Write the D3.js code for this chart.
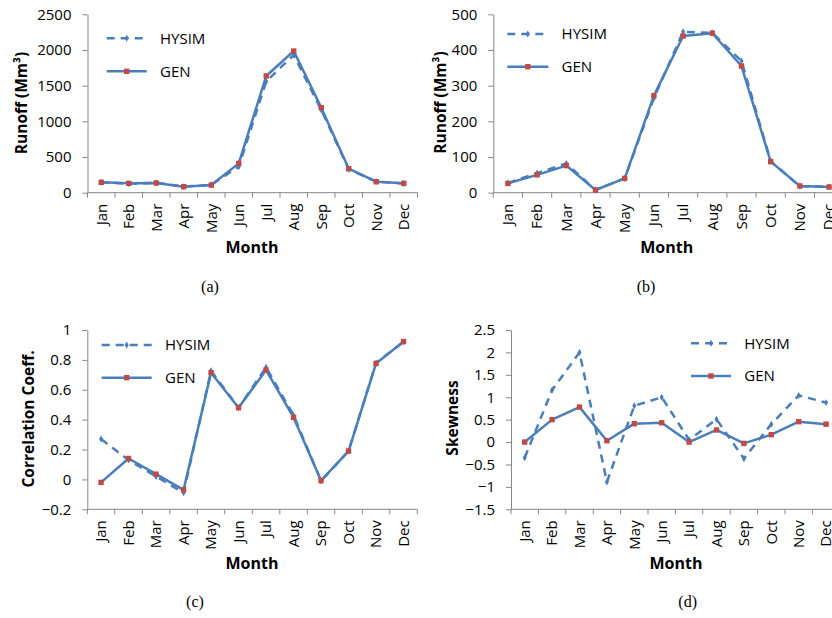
<!DOCTYPE html>
<html>
<head>
<meta http-equiv="content-type" content="text/html; charset=UTF8">
<script src="https://cdn.jsdelivr.net/npm/d3@7/dist/d3.min.js"></script>
<style>
body { margin: 0; background: #fff; }
svg { display: block; }
text { font-family: "Open Sans", "Noto Sans", sans-serif; fill: #000; }
.cap { font-family: "Liberation Serif", "DejaVu Serif", serif; font-size: 16px; }
</style>
</head>
<body>
<svg class="chart" width="832" height="618"></svg>
<script>
var months = ["Jan","Feb","Mar","Apr","May","Jun","Jul","Aug","Sep","Oct","Nov","Dec"];

// (a) runoff, station 1
var hysimA = [145, 125, 140, 85, 110, 365, 1560, 1930, 1160, 330, 155, 130];
var genA   = [145, 131, 136, 84, 107, 411, 1636, 1985, 1192, 336, 154, 131];
var ticksA = [0, 500, 1000, 1500, 2000, 2500];

// (b) runoff, station 2
var hysimB = [27, 55, 82, 8, 40, 265, 451, 448, 369, 88, 18, 17];
var genB   = [26, 50, 76, 7.5, 40, 272, 439, 447, 355, 87, 19, 16];
var ticksB = [0, 100, 200, 300, 400, 500];

// (c) lag-1 correlation
var hysimC = [0.27, 0.13, 0.02, -0.09, 0.727, 0.48, 0.75, 0.43, -0.01, 0.19, 0.78, 0.92];
var genC   = [-0.02, 0.14, 0.035, -0.07, 0.714, 0.48, 0.732, 0.415, -0.008, 0.19, 0.776, 0.923];
var ticksC = [-0.2, 0, 0.2, 0.4, 0.6, 0.8, 1];

// (d) skewness
var hysimD = [-0.35, 1.16, 2.0, -0.89, 0.81, 1.0, 0.05, 0.51, -0.37, 0.4, 1.04, 0.88];
var genD   = [0, 0.5, 0.78, 0.03, 0.41, 0.43, 0, 0.27, -0.03, 0.165, 0.455, 0.40];
var ticksD = [-1.5, -1, -0.5, 0, 0.5, 1, 1.5, 2, 2.5];

var blue = "#4a7ebb", red = "#be4b48", axisCol = "#868686";

var svg = d3.select(".chart");

var panels = [
	{hysim: hysimA, gen: genA, ticks: ticksA, ylabel: "Runoff (Mm³)", cap: "(a)",
	 x0: 87.5, step: 27.5, top: 14.3, bot: 192.7, ylx: 21.7, yly: 103,
	 mx: 252, my: 253, cx: 210, cy: 292, lx: 106.7, lw: 40, ly: 38.3, lgap: 33},
	{hysim: hysimB, gen: genB, ticks: ticksB, ylabel: "Runoff (Mm³)", cap: "(b)",
	 x0: 493.3, step: 29.2, top: 14.3, bot: 192.7, ylx: 441, yly: 102.5,
	 mx: 666.7, my: 253, cx: 646, cy: 292, lx: 507.3, lw: 41, ly: 34, lgap: 32.7},
	{hysim: hysimC, gen: genC, ticks: ticksC, ylabel: "Correlation Coeff.", cap: "(c)",
	 x0: 87.3, step: 27.5, top: 330, bot: 509.3, ylx: 29, yly: 419,
	 mx: 252, my: 569, cx: 195, cy: 607, lx: 101.7, lw: 50, ly: 345, lgap: 32.7},
	{hysim: hysimD, gen: genD, ticks: ticksD, ylabel: "Skewness", cap: "(d)",
	 x0: 511, step: 27.4, top: 330, bot: 509.3, ylx: 452.7, yly: 418,
	 mx: 676, my: 569, cx: 687.7, cy: 607, lx: 691, lw: 40, ly: 343.3, lgap: 32.7}
];

panels.forEach(function(p) {
	var g = svg.append("g");

	var x = d3.scaleBand()
		.domain(months)
		.range([p.x0, p.x0 + p.step * months.length])
		.padding(0);

	var y = d3.scaleLinear()
		.domain(d3.extent(p.ticks))
		.range([p.bot, p.top]);

	// y axis
	var yAxis = g.append("g")
		.attr("transform", "translate(" + p.x0 + ",0)")
		.call(d3.axisLeft(y).tickValues(p.ticks).tickSize(5).tickSizeOuter(0)
			.tickFormat(function(d) { return d3.format("~g")(+d.toFixed(2)); }));
	yAxis.select(".domain").attr("stroke", axisCol);
	yAxis.selectAll(".tick line").attr("stroke", axisCol);
	yAxis.selectAll(".tick text")
		.attr("x", -16)
		.style("font-family", "'Open Sans', sans-serif")
		.style("font-size", "15px")
		.attr("fill", "#000");

	// x axis: line, ticks on category boundaries, rotated labels
	g.append("line")
		.attr("x1", p.x0).attr("x2", p.x0 + p.step * months.length)
		.attr("y1", p.bot).attr("y2", p.bot)
		.attr("stroke", axisCol);
	g.selectAll(".xt")
		.data(months.concat(["end"]))
		.enter().append("line")
		.attr("x1", function(d, i) { return p.x0 + i * x.bandwidth(); })
		.attr("x2", function(d, i) { return p.x0 + i * x.bandwidth(); })
		.attr("y1", p.bot).attr("y2", p.bot + 5)
		.attr("stroke", axisCol);
	g.selectAll(".xl")
		.data(months)
		.enter().append("text")
		.attr("transform", function(d) {
			return "translate(" + (x(d) + x.bandwidth() / 2) + "," + (p.bot + 11) + ") rotate(-90)";
		})
		.attr("text-anchor", "end")
		.attr("dy", "0.35em")
		.style("font-size", "15px")
		.text(function(d) { return d; });

	var line = d3.line()
		.x(function(d, i) { return x(months[i]) + x.bandwidth() / 2; })
		.y(function(d) { return y(d); });

	// GEN
	g.append("path")
		.datum(p.gen)
		.attr("d", line)
		.attr("fill", "none")
		.attr("stroke", blue)
		.attr("stroke-width", 2.5)
		.attr("stroke-linejoin", "round");
	// HYSIM
	g.append("path")
		.datum(p.hysim)
		.attr("d", line)
		.attr("fill", "none")
		.attr("stroke", blue)
		.attr("stroke-width", 2.5)
		.attr("stroke-dasharray", "8,6");
	g.selectAll(".hm")
		.data(p.hysim)
		.enter().append("path")
		.attr("d", d3.symbol(d3.symbolDiamond, 14))
		.attr("transform", function(d, i) {
			return "translate(" + (x(months[i]) + x.bandwidth() / 2) + "," + y(d) + ")";
		})
		.attr("fill", blue);
	g.selectAll(".gm")
		.data(p.gen)
		.enter().append("rect")
		.attr("x", function(d, i) { return x(months[i]) + x.bandwidth() / 2 - 2.7; })
		.attr("y", function(d) { return y(d) - 2.7; })
		.attr("width", 5.4).attr("height", 5.4)
		.attr("fill", red);

	// legend
	var lg = g.append("g");
	lg.append("line")
		.attr("x1", p.lx).attr("x2", p.lx + p.lw)
		.attr("y1", p.ly).attr("y2", p.ly)
		.attr("stroke", blue).attr("stroke-width", 2.5)
		.attr("stroke-dasharray", "8,6");
	lg.append("path")
		.attr("d", d3.symbol(d3.symbolDiamond, 14))
		.attr("transform", "translate(" + (p.lx + p.lw / 2) + "," + p.ly + ")")
		.attr("fill", blue);
	lg.append("text")
		.attr("x", p.lx + p.lw + 13.3).attr("y", p.ly)
		.attr("dy", "0.35em")
		.style("font-size", "15px")
		.text("HYSIM");
	lg.append("line")
		.attr("x1", p.lx).attr("x2", p.lx + p.lw)
		.attr("y1", p.ly + p.lgap).attr("y2", p.ly + p.lgap)
		.attr("stroke", blue).attr("stroke-width", 2.5);
	lg.append("rect")
		.attr("x", p.lx + p.lw / 2 - 2.7).attr("y", p.ly + p.lgap - 2.7)
		.attr("width", 5.4).attr("height", 5.4)
		.attr("fill", red);
	lg.append("text")
		.attr("x", p.lx + p.lw + 13.3).attr("y", p.ly + p.lgap)
		.attr("dy", "0.35em")
		.style("font-size", "15px")
		.text("GEN");

	// titles
	g.append("text")
		.attr("transform", "translate(" + p.ylx + "," + p.yly + ") rotate(-90)")
		.attr("text-anchor", "middle")
		.attr("dy", "0.35em")
		.style("font-size", "15.5px")
		.style("font-weight", "bold")
		.text(p.ylabel);
	g.append("text")
		.attr("x", p.mx).attr("y", p.my)
		.attr("text-anchor", "middle")
		.style("font-size", "16px")
		.style("font-weight", "bold")
		.text("Month");
	g.append("text")
		.attr("class", "cap")
		.attr("x", p.cx).attr("y", p.cy)
		.attr("text-anchor", "middle")
		.text(p.cap);
});
</script>
</body>
</html>
